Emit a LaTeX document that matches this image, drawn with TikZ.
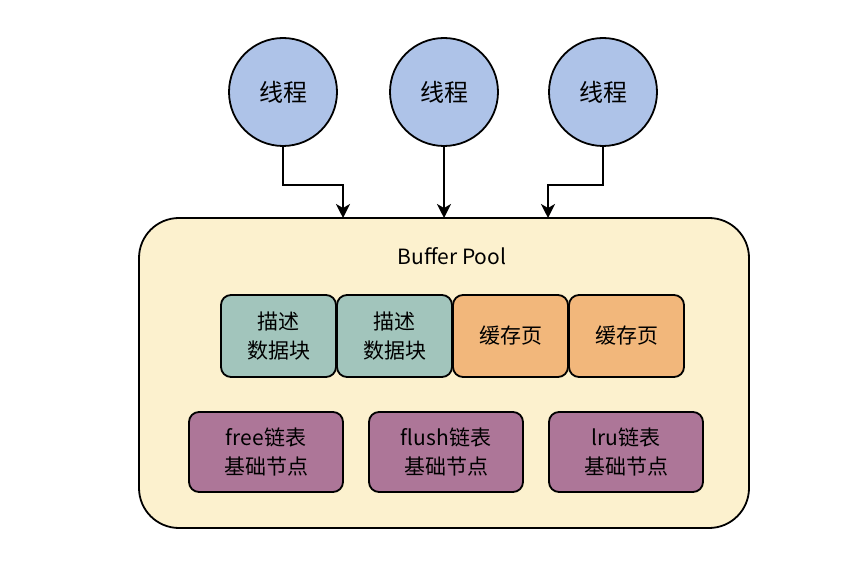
\documentclass[tikz,border=0pt]{standalone}
\usepackage{fontspec}
\setmainfont{Noto Sans CJK SC}
\usetikzlibrary{arrows.meta}

\definecolor{threadblue}{RGB}{174,195,232}
\definecolor{poolyellow}{RGB}{252,241,206}
\definecolor{descteal}{RGB}{162,197,188}
\definecolor{pageorange}{RGB}{242,183,123}
\definecolor{listpurple}{RGB}{173,118,152}

\begin{document}
\begin{tikzpicture}[
    x=0.5pt, y=-0.5pt,
    ->, >={Stealth[length=7pt,width=7pt,inset=2pt]}, line width=0.9pt,
    every node/.style={inner sep=1pt, align=center},
    thread/.style={circle, draw, fill=threadblue, minimum size=54pt, font=\fontsize{12}{14}\selectfont},
    cell/.style={draw, rounded corners=5pt, minimum width=57.5pt, minimum height=41pt, font=\fontsize{10.5}{14.5}\selectfont},
    listbox/.style={draw, fill=listpurple, rounded corners=5pt, minimum width=77pt, minimum height=40pt, font=\fontsize{10.5}{14.5}\selectfont}
]

\useasboundingbox (0,0) rectangle (866,576);

\def\ty{92}
\def\ry{336}
\def\ly{452}

% buffer pool
\node[draw, fill=poolyellow, rounded corners=20pt, minimum width=305pt, minimum height=155pt] (pool) at (444,373) {};
\node[font=\fontsize{10.5}{12}\selectfont] (title) at (452,256) {Buffer Pool};

% threads
\node[thread] (t1) at (283,\ty) {线程};
\node[thread] (t2) at (444,\ty) {线程};
\node[thread] (t3) at (603,\ty) {线程};

% entry points on the pool
\coordinate (in1) at (343,218);
\coordinate (in2) at (444,218);
\coordinate (in3) at (548,218);

% descriptor blocks and cache pages
\node[cell, fill=descteal] (d1) at (278.5,\ry) {描述\\数据块};
\node[cell, fill=descteal] (d2) at (394.5,\ry) {描述\\数据块};
\node[cell, fill=pageorange] (p1) at (510.5,\ry) {缓存页};
\node[cell, fill=pageorange] (p2) at (626.5,\ry) {缓存页};

% list base nodes
\node[listbox] (free) at (266,\ly) {free链表\\基础节点};
\node[listbox] (flush) at (446,\ly) {flush链表\\基础节点};
\node[listbox] (lru) at (626,\ly) {lru链表\\基础节点};

% threads -> pool
\draw (t1.south) -- ++(0,38) -| (in1);
\draw (t2.south) -- (in2);
\draw (t3.south) -- ++(0,38) -| (in3);

\end{tikzpicture}
\end{document}
